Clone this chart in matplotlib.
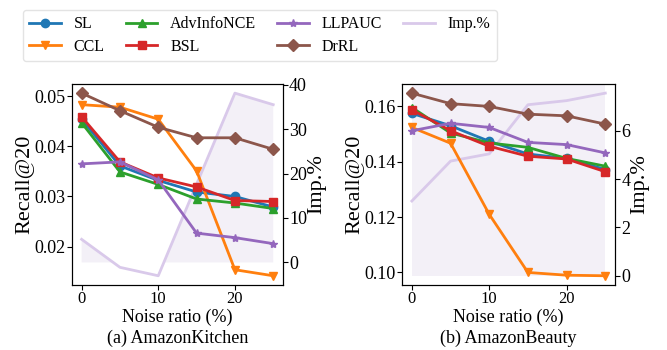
import numpy as np
import matplotlib
matplotlib.use('Agg')
import matplotlib.pyplot as plt

plt.rcParams['font.family'] = ['Liberation Serif', 'DejaVu Serif']
plt.rcParams['mathtext.fontset'] = 'stix'

# noise ratios (%)
noise = [0, 5, 10, 15, 20, 25]

# AmazonKitchen, Recall@20
kit_sl   = [0.0454, 0.0361, 0.0332, 0.0309, 0.0300, 0.0279]
kit_ccl  = [0.0483, 0.0478, 0.0454, 0.0351, 0.0154, 0.0142]
kit_adv  = [0.0447, 0.0349, 0.0324, 0.0295, 0.0287, 0.0276]
kit_bsl  = [0.0459, 0.0369, 0.0337, 0.0319, 0.0292, 0.0290]
kit_llp  = [0.0365, 0.0369, 0.0333, 0.0227, 0.0218, 0.0206]
kit_drrl = [0.0506, 0.0471, 0.0438, 0.0417, 0.0417, 0.0394]
kit_imp  = [5.2, -1.1, -3.0, 17.6, 38.1, 35.5]

# AmazonBeauty, Recall@20
bea_sl   = [0.1575, 0.1530, 0.1474, 0.1428, 0.1412, 0.1372]
bea_ccl  = [0.1524, 0.1467, 0.1210, 0.1000, 0.0990, 0.0988]
bea_adv  = [0.1596, 0.1504, 0.1468, 0.1452, 0.1412, 0.1384]
bea_bsl  = [0.1588, 0.1512, 0.1456, 0.1420, 0.1410, 0.1364]
bea_llp  = [0.1512, 0.1539, 0.1524, 0.1470, 0.1462, 0.1432]
bea_drrl = [0.1648, 0.1610, 0.1600, 0.1572, 0.1566, 0.1536]
bea_imp  = [3.09, 4.74, 5.04, 7.07, 7.24, 7.55]

names   = ['SL', 'CCL', 'AdvInfoNCE', 'BSL', 'LLPAUC', 'DrRL']
colors  = ['#1f77b4', '#ff7f0e', '#2ca02c', '#d62728', '#9467bd', '#8c564b']
markers = ['o', 'v', '^', 's', '*', 'D']
imp_color = '#d9c9ea'
fill_color = '#f3f0f7'

fig = plt.figure(figsize=(6.67, 3.5), dpi=100)
ax_a = fig.add_axes([0.108, 0.186, 0.316, 0.574])
ax_b = fig.add_axes([0.603, 0.186, 0.319, 0.574])


def draw(ax, series, imp, caption, full_fill):
    ax2 = ax.twinx()
    x = np.array(noise)
    imp = np.array(imp)
    if full_fill:
        ax2.plot(x, imp, color=imp_color, lw=2, zorder=1)
        top = imp.max() + 0.05 * imp.max()
        ax2.fill_between(x, 0, top, color=fill_color, lw=0, zorder=0)
        ax2.set_ylim(-0.05 * imp.max(), top)
    else:
        ax2.fill_between(x, 0, imp, where=imp >= 0, interpolate=True,
                         color=fill_color, lw=0, zorder=0)
        ax2.plot(x, imp, color=imp_color, lw=2, zorder=1)
    ax2.set_ylabel('Imp.%', fontsize=16, labelpad=0)
    ax2.tick_params(labelsize=13, pad=1)

    ax.set_zorder(ax2.get_zorder() + 1)
    ax.patch.set_visible(False)
    for vals, name, c, m in zip(series, names, colors, markers):
        ax.plot(x, vals, color=c, marker=m, ms=6, lw=2, label=name)
    ax.set_ylabel('Recall@20', fontsize=16, labelpad=0)
    ax.set_xlabel('Noise ratio (%)\n' + caption, fontsize=13, labelpad=1,
                  linespacing=1.3)
    ax.set_xticks([0, 10, 20])
    ax.tick_params(axis='x', labelsize=12, pad=1)
    ax.tick_params(axis='y', labelsize=13, pad=1)
    return ax2


draw(ax_a, [kit_sl, kit_ccl, kit_adv, kit_bsl, kit_llp, kit_drrl], kit_imp,
     '(a) AmazonKitchen', False)
draw(ax_b, [bea_sl, bea_ccl, bea_adv, bea_bsl, bea_llp, bea_drrl], bea_imp,
     '(b) AmazonBeauty', True)
ax_a.set_yticks([0.02, 0.03, 0.04, 0.05])
ax_b.set_yticks([0.10, 0.12, 0.14, 0.16])

handles, labels = ax_a.get_legend_handles_labels()
handles.append(plt.Line2D([], [], color=imp_color, lw=2))
labels.append('Imp.%')
fig.legend(handles, labels, loc='upper left', bbox_to_anchor=(0.022, 0.995),
           ncol=4, fontsize=11.5, frameon=True, edgecolor='#dddddd',
           handlelength=2.0, columnspacing=1.3, handletextpad=0.8,
           labelspacing=0.4, borderpad=0.4)

plt.savefig('out.png', dpi=100)
plt.close()
